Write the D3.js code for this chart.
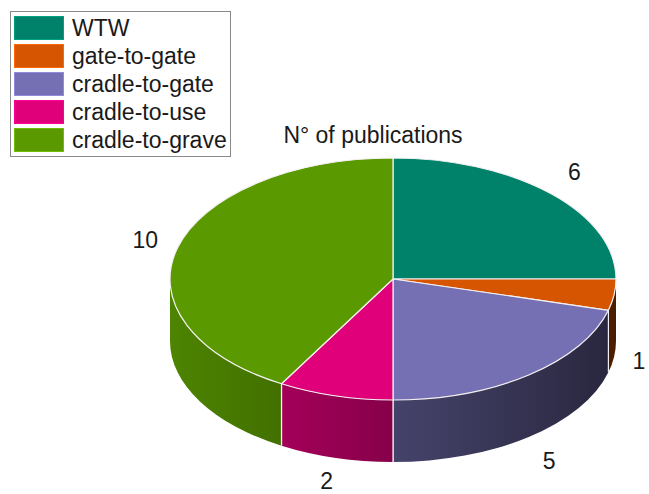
<!DOCTYPE html>
<html>
<head>
<meta charset="utf-8">
<script src="https://cdn.jsdelivr.net/npm/d3@7/dist/d3.min.js"></script>
<style>
  html, body { margin: 0; padding: 0; background: #fff; }
  svg { display: block; font-family: "Liberation Sans", Arial, sans-serif; }
</style>
</head>
<body>
<svg id="chart" width="649" height="494"></svg>
<script>
// ---- data ----
const categories = ["WTW", "gate-to-gate", "cradle-to-gate", "cradle-to-use", "cradle-to-grave"];
const publications = [6, 1, 5, 2, 10];
const colors = ["#00826a", "#d65500", "#7570b3", "#e0007a", "#5a9a00"];
const title = "N° of publications";

// ---- layout ----
const W = 649, H = 494;
const cx = 393, cy = 279, rx = 223, ry = 121, depth = 62;
const svg = d3.select("#chart");
const defs = svg.append("defs");

const pie = d3.pie().sort(null).value(d => d.v).startAngle(0).endAngle(2 * Math.PI);
const data = categories.map((c, i) => ({ c, v: publications[i], col: colors[i] }));
const arcs = pie(data);

const px = a => cx + rx * Math.sin(a);
const py = (a, dz = 0) => cy - ry * Math.cos(a) + dz;

// shading across the side wall: lighter on the left, darker on the right
const xShade = d3.scaleLinear().domain([cx - rx, cx + rx]).range([0.86, 0.34]);

arcs.forEach((d, i) => {
  const g = defs.append("linearGradient")
    .attr("id", "side" + i)
    .attr("gradientUnits", "userSpaceOnUse")
    .attr("x1", cx - rx).attr("x2", cx + rx).attr("y1", 0).attr("y2", 0);
  const base = d3.rgb(d.data.col);
  [0, 0.25, 0.5, 0.75, 1].forEach(t => {
    const x = cx - rx + t * 2 * rx;
    const f = xShade(x);
    g.append("stop").attr("offset", t)
      .attr("stop-color", d3.rgb(base.r * f, base.g * f, base.b * f).formatHex());
  });
});

// side walls (front half only: angles between PI/2 and 3PI/2)
const sideG = svg.append("g");
arcs.forEach((d, i) => {
  const s0 = Math.max(d.startAngle, Math.PI / 2);
  const s1 = Math.min(d.endAngle, 3 * Math.PI / 2);
  if (s1 <= s0) return;
  const large = (s1 - s0) > Math.PI ? 1 : 0;
  const path = `M${px(s0)},${py(s0)} A${rx},${ry} 0 ${large} 1 ${px(s1)},${py(s1)} ` +
    `L${px(s1)},${py(s1, depth)} A${rx},${ry} 0 ${large} 0 ${px(s0)},${py(s0, depth)} Z`;
  sideG.append("path")
    .attr("d", path)
    .attr("fill", `url(#side${i})`)
    .attr("stroke", "none");
  // vertical separators at slice edges on the side wall
  [d.startAngle, d.endAngle].forEach(a => {
    if (a > Math.PI / 2 + 0.01 && a < 3 * Math.PI / 2 - 0.01) {
      sideG.append("line")
        .attr("x1", px(a)).attr("y1", py(a))
        .attr("x2", px(a)).attr("y2", py(a, depth))
        .attr("stroke", "#f4eef0").attr("stroke-width", 1.2);
    }
  });
});

// top surface
const topG = svg.append("g");
arcs.forEach(d => {
  const a0 = d.startAngle, a1 = d.endAngle;
  const large = (a1 - a0) > Math.PI ? 1 : 0;
  const path = `M${cx},${cy} L${px(a0)},${py(a0)} A${rx},${ry} 0 ${large} 1 ${px(a1)},${py(a1)} Z`;
  topG.append("path")
    .attr("d", path)
    .attr("fill", d.data.col)
    .attr("stroke", "#f4f0f2")
    .attr("stroke-width", 1.2)
    .attr("stroke-linejoin", "round");
});

// value labels
const kx = 1.15, ky = 1.25;
svg.append("g").selectAll("text").data(arcs).join("text")
  .attr("x", d => {
    const m = (d.startAngle + d.endAngle) / 2;
    return Math.min(W - 10, cx + rx * kx * Math.sin(m));
  })
  .attr("y", d => {
    const m = (d.startAngle + d.endAngle) / 2;
    const c = Math.cos(m);
    return Math.min(H - 13, cy - ry * ky * c + (c < 0 ? depth : 0));
  })
  .attr("text-anchor", "middle")
  .attr("dy", "0.36em")
  .attr("font-size", 23)
  .attr("fill", "#1a1a1a")
  .text(d => d.data.v);

// title
svg.append("text")
  .attr("x", 373).attr("y", 143)
  .attr("text-anchor", "middle")
  .attr("font-size", 23)
  .attr("fill", "#1a1a1a")
  .text(title);

// legend
const leg = svg.append("g");
leg.append("rect")
  .attr("x", 10.5).attr("y", 11.5).attr("width", 220).attr("height", 145)
  .attr("fill", "#fff").attr("stroke", "#8a8a8a").attr("stroke-width", 1);
const rowY = d3.scalePoint().domain(categories).range([16, 128]);
const items = leg.selectAll("g.item").data(data).join("g").attr("class", "item")
  .attr("transform", d => `translate(0,${rowY(d.c)})`);
items.append("rect")
  .attr("x", 14.5).attr("y", 0.5).attr("width", 49).attr("height", 23)
  .attr("fill", d => d.col)
  .attr("stroke", d => d3.color(d.col).brighter(0.6).formatHex())
  .attr("stroke-width", 1);
items.append("text")
  .attr("x", 72).attr("y", 19.5)
  .attr("font-size", 23)
  .attr("fill", "#1a1a1a")
  .text(d => d.c);
</script>
</body>
</html>
